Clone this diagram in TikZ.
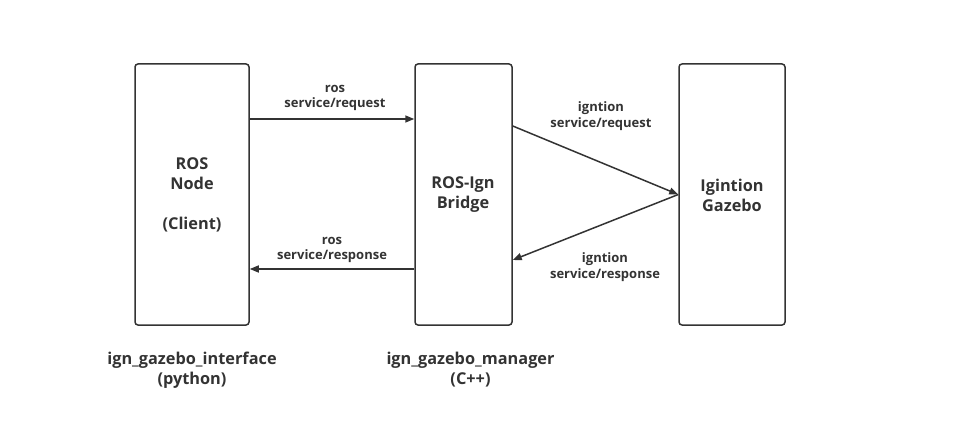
\documentclass[tikz,border=0pt]{standalone}
\usepackage{fontspec}
\setmainfont{Open Sans}
\usetikzlibrary{arrows.meta}
\usetikzlibrary{positioning}
\definecolor{boxline}{HTML}{333333}
\tikzset{
  block/.style={draw=boxline,line width=1.5pt,rounded corners=3pt,fill=white,minimum width=#1,minimum height=261pt,inner sep=0pt},
  blocktext/.style={font=\fontsize{16.3}{20}\selectfont\bfseries,text=boxline,align=center},
  msg/.style={font=\fontsize{13}{15.5}\selectfont\bfseries,text=boxline,align=center},
  flow/.style={draw=boxline,line width=1.5pt,-{Triangle[length=9pt,width=7pt]}}
}
\begin{document}
\begin{tikzpicture}[x=1pt,y=-1pt]
\useasboundingbox (0,0) rectangle (958,422);
% boxes
\node[block=114pt] (client) at (192,194.5) {};
\node[block=97pt] (bridge) at (463.5,194.5) {};
\node[block=106pt] (gazebo) at (732,194.5) {};
\node[blocktext] (clienttxt) at (192,195) {ROS\\Node\\\\(Client)};
\node[blocktext] (bridgetxt) at (463,195) {ROS-Ign\\Bridge};
\node[blocktext] (gazebotxt) at (732,195) {Igintion\\Gazebo};

% ros side
\draw[flow] ([yshift=75.5pt]client.east) -- ([yshift=75.5pt]bridge.west);
\draw[flow] ([yshift=-74.5pt]bridge.west) -- ([yshift=-74.5pt]client.east);
\node[msg] (rosreq) at (335,98) {ros\\service/request};
\node[msg] (rosres) at (332,250) {ros\\service/response};

% ignition side
\draw[flow] ([yshift=68.5pt]bridge.east) -- (gazebo.west);
\draw[flow] (gazebo.west) -- ([yshift=-65.5pt]bridge.east);
\node[msg] (ignreq) at (601,116) {igntion\\service/request};
\node[msg] (ignres) at (605,267) {igntion\\service/response};

% packages
\node[blocktext,below=23pt of client] (clientpkg) {ign\_gazebo\_interface\\(python)};
\node[blocktext,below=23pt of bridge,xshift=7pt] (bridgepkg) {ign\_gazebo\_manager\\(C++)};
\end{tikzpicture}
\end{document}
